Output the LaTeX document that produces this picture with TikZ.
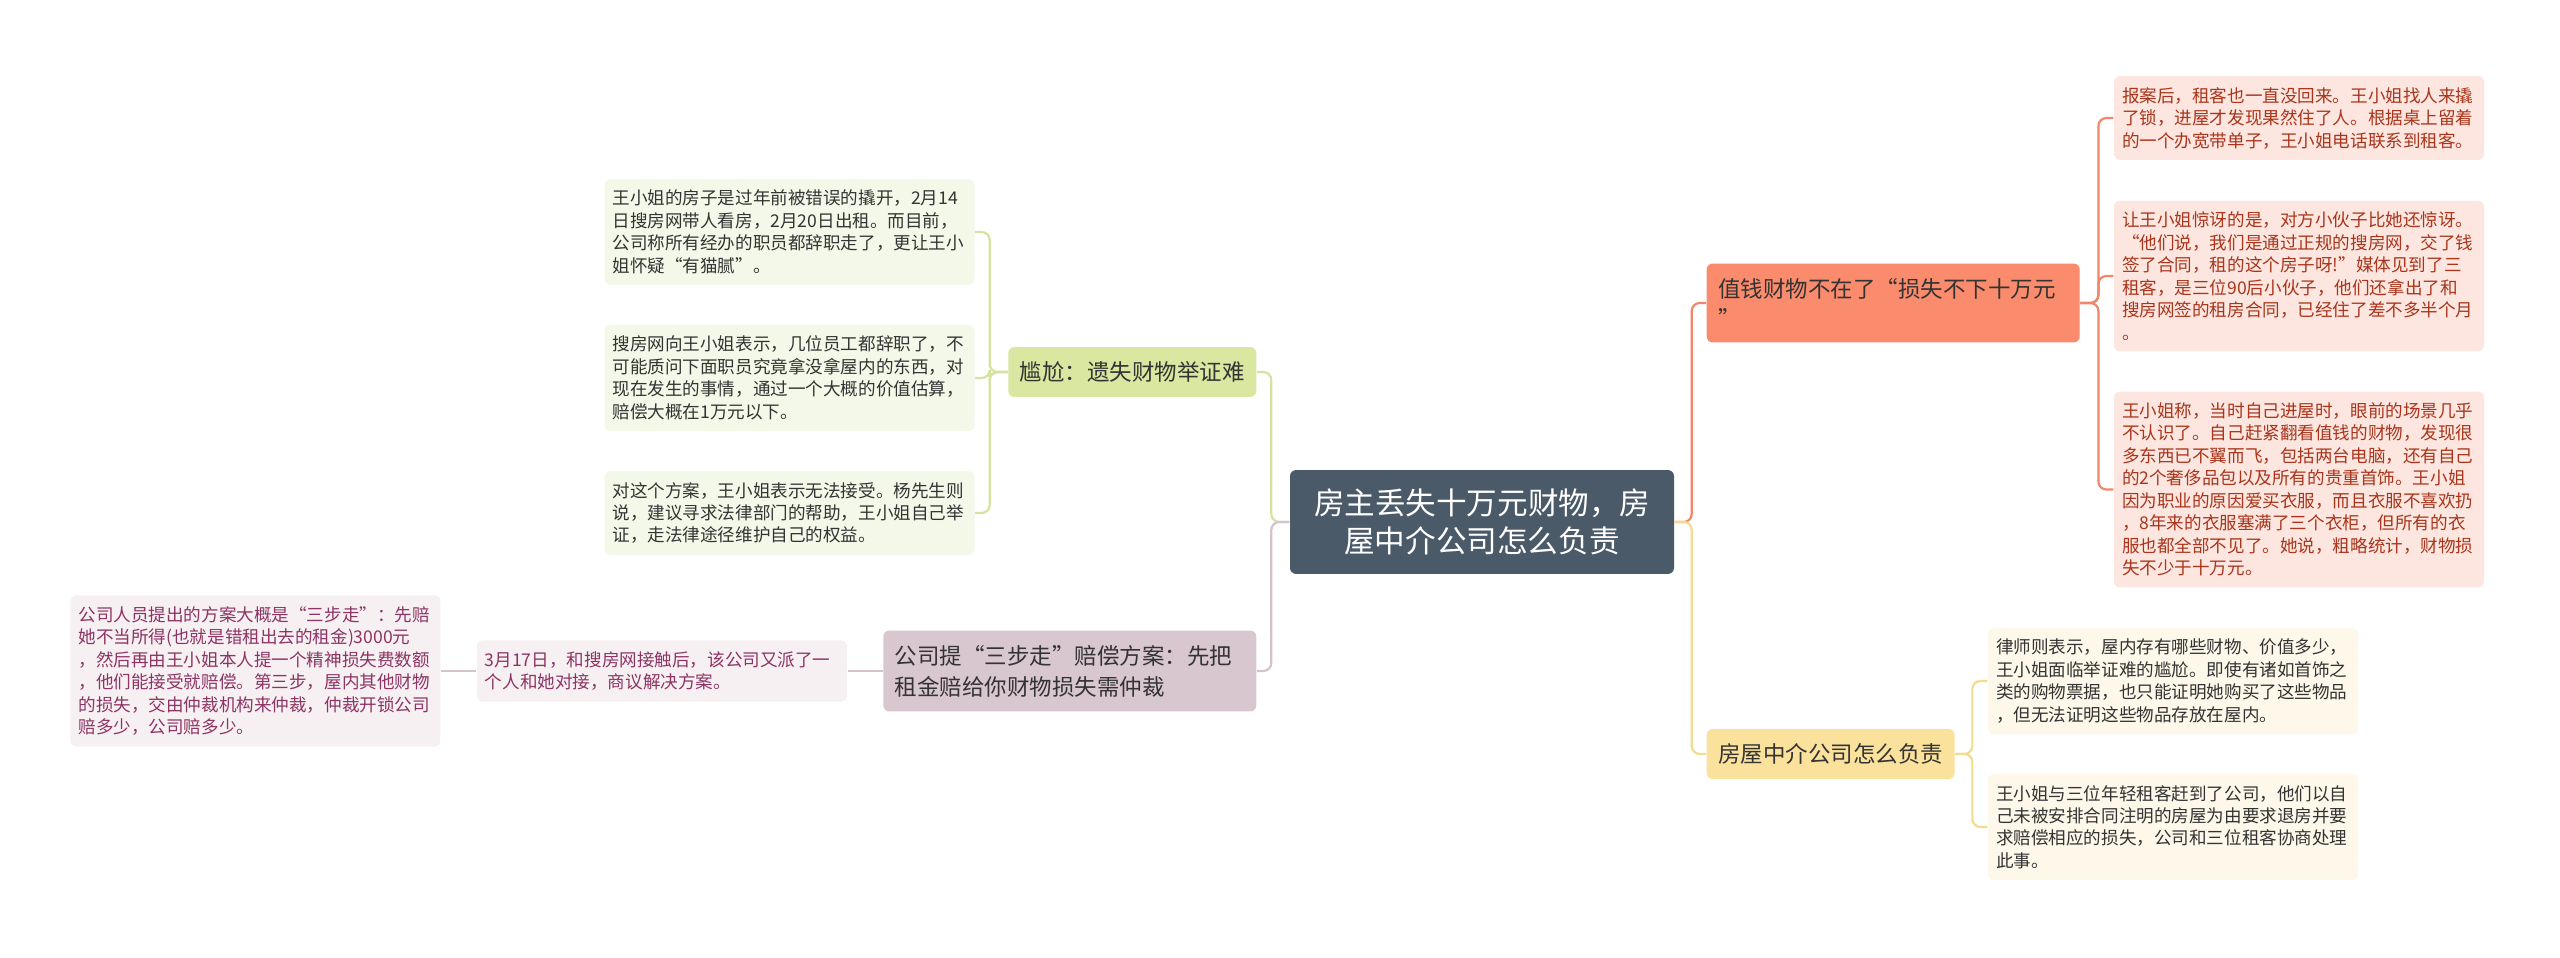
\documentclass[tikz,border=0pt]{standalone}
\usepackage{fontspec}
\setmainfont{Noto Sans CJK SC}
\usetikzlibrary{positioning}

\definecolor{hubfill}{HTML}{4B5A69}
\definecolor{greenmain}{HTML}{DAE7A0}
\definecolor{greenleaf}{HTML}{F4F8E8}
\definecolor{greenline}{HTML}{D5E3A0}
\definecolor{mauvemain}{HTML}{D9C7D0}
\definecolor{mauveleaf}{HTML}{F7F0F3}
\definecolor{mauveline}{HTML}{D5C2CC}
\definecolor{mauvetext}{HTML}{8C3463}
\definecolor{orangemain}{HTML}{FA8B6C}
\definecolor{orangeleaf}{HTML}{FDE6DF}
\definecolor{orangeline}{HTML}{F1876A}
\definecolor{orangetext}{HTML}{A8351C}
\definecolor{yellowmain}{HTML}{FAE19C}
\definecolor{yellowleaf}{HTML}{FEF8EA}
\definecolor{yellowline}{HTML}{F2DC8E}
\definecolor{darktext}{HTML}{333333}

\begin{document}
\begin{tikzpicture}[
    x=0.1mm, y=-0.1mm,
    every node/.style={rounded corners=0.6mm},
    hub/.style={fill=hubfill, text=white, align=center, text width=33.6mm,
        inner xsep=2.4mm, inner ysep=1.9mm, font=\fontsize{8.7pt}{10.7pt}\selectfont},
    topic/.style={text=darktext, align=left, inner xsep=1.15mm, inner ysep=1.45mm,
        font=\fontsize{6.4pt}{8.8pt}\selectfont},
    leaf/.style={text=darktext, align=left, text width=35.4mm, inner xsep=0.8mm,
        inner ysep=1.1mm, font=\fontsize{5pt}{6.4pt}\selectfont},
    link/.style={line width=0.22mm, rounded corners=0.8mm}
]
\path[use as bounding box, fill=white] (0,0) rectangle (2560,957);

\node[hub] (hub) at (1482,522) {房主丢失十万元财物，房\\屋中介公司怎么负责};

% left side
\node[topic, fill=greenmain, anchor=east] (g0) at (1257,372) {尴尬：遗失财物举证难};
\node[topic, fill=mauvemain, anchor=east, text width=35mm] (m0) at (1257,671)
    {公司提“三步走”赔偿方案：先把\\租金赔给你财物损失需仲裁};

\node[leaf, fill=greenleaf] (g1) at (789.5,232)
    {王小姐的房子是过年前被错误的撬开，2月14\\日搜房网带人看房，2月20日出租。而目前，\\公司称所有经办的职员都辞职走了，更让王小\\姐怀疑“有猫腻”。};
\node[leaf, fill=greenleaf] (g2) at (789.5,378)
    {搜房网向王小姐表示，几位员工都辞职了，不\\可能质问下面职员究竟拿没拿屋内的东西，对\\现在发生的事情，通过一个大概的价值估算，\\赔偿大概在1万元以下。};
\node[leaf, fill=greenleaf] (g3) at (789.5,513)
    {对这个方案，王小姐表示无法接受。杨先生则\\说，建议寻求法律部门的帮助，王小姐自己举\\证，走法律途径维护自己的权益。};

\node[leaf, fill=mauveleaf, text=mauvetext, left=3.5mm of m0] (m1)
    {3月17日，和搜房网接触后，该公司又派了一\\个人和她对接，商议解决方案。};
\node[leaf, fill=mauveleaf, text=mauvetext, left=3.5mm of m1] (m2)
    {公司人员提出的方案大概是“三步走”：先赔\\她不当所得(也就是错租出去的租金)3000元\\，然后再由王小姐本人提一个精神损失费数额\\，他们能接受就赔偿。第三步，屋内其他财物\\的损失，交由仲裁机构来仲裁，仲裁开锁公司\\赔多少，公司赔多少。};

% right side
\node[topic, fill=orangemain, anchor=west, text width=35mm] (o0) at (1706,303)
    {值钱财物不在了“损失不下十万元\\”};
\node[topic, fill=yellowmain, anchor=west] (y0) at (1706,754) {房屋中介公司怎么负责};

\node[leaf, fill=orangeleaf, text=orangetext] (o1) at (2299,118)
    {报案后，租客也一直没回来。王小姐找人来撬\\了锁，进屋才发现果然住了人。根据桌上留着\\的一个办宽带单子，王小姐电话联系到租客。};
\node[leaf, fill=orangeleaf, text=orangetext] (o2) at (2299,276)
    {让王小姐惊讶的是，对方小伙子比她还惊讶。\\“他们说，我们是通过正规的搜房网，交了钱\\签了合同，租的这个房子呀!”媒体见到了三\\租客，是三位90后小伙子，他们还拿出了和\\搜房网签的租房合同，已经住了差不多半个月\\。};
\node[leaf, fill=orangeleaf, text=orangetext] (o3) at (2299,489.5)
    {王小姐称，当时自己进屋时，眼前的场景几乎\\不认识了。自己赶紧翻看值钱的财物，发现很\\多东西已不翼而飞，包括两台电脑，还有自己\\的2个奢侈品包以及所有的贵重首饰。王小姐\\因为职业的原因爱买衣服，而且衣服不喜欢扔\\，8年来的衣服塞满了三个衣柜，但所有的衣\\服也都全部不见了。她说，粗略统计，财物损\\失不少于十万元。};

\node[leaf, fill=yellowleaf] (y1) at (2173,681)
    {律师则表示，屋内存有哪些财物、价值多少，\\王小姐面临举证难的尴尬。即使有诸如首饰之\\类的购物票据，也只能证明她购买了这些物品\\，但无法证明这些物品存放在屋内。};
\node[leaf, fill=yellowleaf] (y2) at (2173,827)
    {王小姐与三位年轻租客赶到了公司，他们以自\\己未被安排合同注明的房屋为由要求退房并要\\求赔偿相应的损失，公司和三位租客协商处理\\此事。};

% connectors
\draw[link, greenline] (hub.west) -- ++(-18,0) |- (g0.east);
\draw[link, mauveline] (hub.west) -- ++(-18,0) |- (m0.east);
\draw[link, orangeline] (hub.east) -- ++(17,0) |- (o0.west);
\draw[link, yellowline] (hub.east) -- ++(17,0) |- (y0.west);
\foreach \n in {g1,g2,g3}
    \draw[link, greenline] (g0.west) -- ++(-18,0) |- (\n.east);
\draw[link, mauveline] (m0.west) -- (m1.east);
\draw[link, mauveline] (m1.west) -- (m2.east);
\foreach \n in {o1,o2,o3}
    \draw[link, orangeline] (o0.east) -- ++(18,0) |- (\n.west);
\foreach \n in {y1,y2}
    \draw[link, yellowline] (y0.east) -- ++(17,0) |- (\n.west);
\end{tikzpicture}
\end{document}
